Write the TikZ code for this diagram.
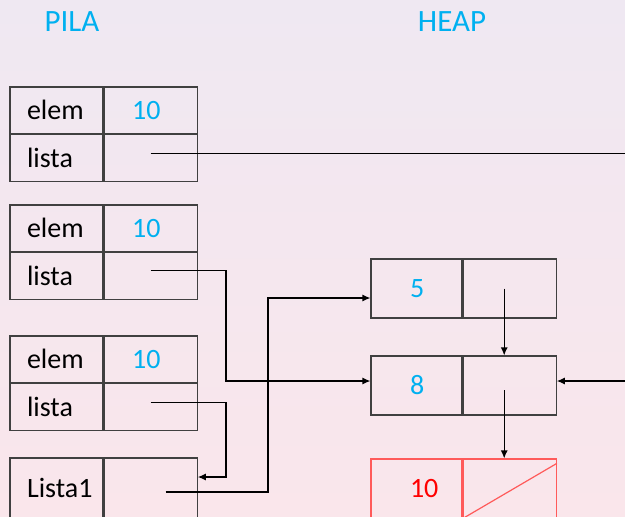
\documentclass[tikz,border=0pt]{standalone}
\usepackage{fontspec}
\setmainfont{Carlito}
\usetikzlibrary{positioning}
\usetikzlibrary{arrows.meta}
\definecolor{skyblue}{RGB}{0,176,240}
\definecolor{listred}{RGB}{255,0,0}
\definecolor{boxred}{RGB}{255,90,90}
\definecolor{bgtop}{RGB}{239,232,242}
\definecolor{bgbot}{RGB}{250,230,235}
\tikzstyle{title} = [text=skyblue, font=\fontsize{15.5}{18}\selectfont]
\tikzstyle{cell} = [draw=black!75, line width=0.6pt, minimum width=46.5pt, minimum height=23.25pt, inner sep=0pt, font=\fontsize{14}{16}\selectfont]
\tikzstyle{heapcell} = [cell, minimum height=29.5pt]
\tikzstyle{ptr} = [line width=0.6pt, -{Latex[length=4pt,width=3.5pt]}]
\newcommand{\lft}[1]{\makebox[29.5pt][l]{#1}}
\newcommand{\vl}[1]{\makebox[18.5pt][l]{#1}}
\newcommand{\hv}[1]{\makebox[6.5pt][l]{#1}}

\begin{document}
\begin{tikzpicture}[x=0.5pt,y=-0.5pt]
 \begin{scope}[y=0.5pt]
 \shade[top color=bgtop, bottom color=bgbot, middle color=bgtop!50!bgbot] (0,-516) rectangle (625,0);
 \end{scope}
 \useasboundingbox (0,0) rectangle (625,516);

    % Titles
    \node[title] (pila) at (72,22) {PILA};
    \node[title] (heap) at (452,22) {HEAP};

    % Stack frames
    \node[cell] (e1) at (56.5,110.25) {\lft{elem}};
    \node[cell, right=0pt of e1, text=skyblue] (v1) {\vl{10}};
    \node[cell, below=0pt of e1] (l1) {\lft{lista}};
    \node[cell, right=0pt of l1] (l1v) {};

    \node[cell] (e2) at (56.5,228.25) {\lft{elem}};
    \node[cell, right=0pt of e2, text=skyblue] (v2) {\vl{10}};
    \node[cell, below=0pt of e2] (l2) {\lft{lista}};
    \node[cell, right=0pt of l2] (l2v) {};

    \node[cell] (e3) at (56.5,359.25) {\lft{elem}};
    \node[cell, right=0pt of e3, text=skyblue] (v3) {\vl{10}};
    \node[cell, below=0pt of e3] (l3) {\lft{lista}};
    \node[cell, right=0pt of l3] (l3v) {};

    \node[cell, minimum height=30pt] (ls) at (56.5,488) {\lft{Lista1}};
    \node[cell, minimum height=30pt, right=0pt of ls] (lsv) {};

    % Heap nodes
    \node[heapcell, minimum width=45.5pt, text=skyblue] (h5) at (416.5,288.5) {\hv{5}};
    \node[heapcell, right=0pt of h5] (h5r) {};
    \node[heapcell, minimum width=45.5pt, text=skyblue] (h8) at (416.5,385.5) {\hv{8}};
    \node[heapcell, right=0pt of h8] (h8r) {};
    \node[heapcell, minimum width=45.5pt, draw=boxred, text=listred] (h10) at (416.5,488.5) {\hv{10}};
    \node[heapcell, draw=boxred, right=0pt of h10] (h10r) {};
    \draw[boxred, line width=0.6pt] (h10r.south west) -- ([yshift=-2.5pt]h10r.north east);

    % Pointers
    \coordinate (out1) at (625,152);
    \coordinate (in8) at (625,381);
    \coordinate (b2) at (226,381);
    \coordinate (b3) at (226,477);
    \coordinate (b4) at (268,298);
    \coordinate (t1) at ([yshift=2.4pt]l1v.center);

    \draw[line width=0.6pt] (t1) -- (t1 -| out1);
    \draw[ptr] (in8) -- (in8 -| h8r.east);
    \draw[ptr] ([yshift=2.9pt]l2v.center) -| (b2) -- (b2 -| h8.west);
    \draw[ptr] ([yshift=2.4pt]l3v.center) -| (b3) -- (b3 -| lsv.east);
    \draw[ptr] ([xshift=7.5pt,yshift=-2pt]lsv.center) -| (b4) -- (b4 -| h5.west);
    \draw[ptr] ([xshift=-2.75pt]h5r.center) -- ([xshift=-2.75pt]h5r.center |- h8r.north);
    \draw[ptr] ([xshift=-2.75pt,yshift=-2.25pt]h8r.center) -- ([xshift=-2.75pt]h8r.center |- h10r.north);

\end{tikzpicture}
\end{document}
